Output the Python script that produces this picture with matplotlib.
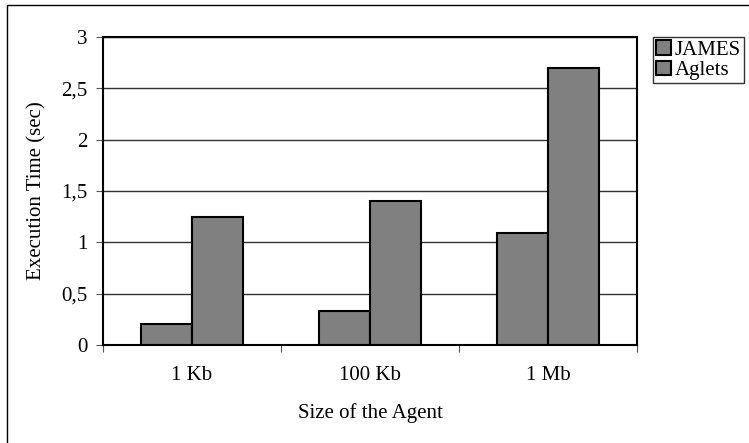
import matplotlib.pyplot as plt
import numpy as np
from matplotlib.patches import Rectangle

sizes = ['1 Kb', '100 Kb', '1 Mb']
james = [0.20, 0.33, 1.09]
aglets = [1.25, 1.40, 2.70]

plt.rcParams['font.family'] = ['Liberation Serif', 'DejaVu Serif']
plt.rcParams['font.size'] = 15

fig = plt.figure(figsize=(7.49, 4.43), dpi=100)
ax = fig.add_axes([103 / 749, 1 - 345 / 443, 534 / 749, 308 / 443])

x = np.arange(len(sizes))
w = 1 / 3.5
ax.bar(x - w / 2, james, w, color='#808080', edgecolor='black', linewidth=1.5, label='JAMES', zorder=3)
ax.bar(x + w / 2, aglets, w, color='#808080', edgecolor='black', linewidth=1.5, label='Aglets', zorder=3)

ax.set_xlim(-0.5, 2.5)
ax.set_ylim(0, 3)
ax.set_yticks([0, 0.5, 1, 1.5, 2, 2.5, 3])
ax.set_yticklabels(['0', '0,5', '1', '1,5', '2', '2,5', '3'])
ax.set_xticks([-0.5, 0.5, 1.5, 2.5])
ax.set_xticklabels([])
ax.set_xticks(x, minor=True)
ax.set_xticklabels(sizes, minor=True)
ax.tick_params(axis='x', which='minor', length=0, pad=15)
ax.tick_params(axis='x', which='major', length=5, direction='out', color='#555555')
ax.tick_params(axis='y', length=5, direction='out', color='#555555', pad=6)
ax.grid(axis='y', color='#333333', linewidth=1, zorder=0)
for s in ax.spines.values():
    s.set_linewidth(1.5)

ax.set_ylabel('Execution Time (sec)', labelpad=11)
ax.set_xlabel('Size of the Agent', labelpad=13)

fig.legend(loc='upper left', bbox_to_anchor=(653 / 749, 1 - 37 / 443), frameon=True,
           fancybox=False, edgecolor='black', handlelength=0.7, handleheight=0.7,
           handletextpad=0.2, borderpad=0.15, labelspacing=0.05, borderaxespad=0)

fig.patches.append(Rectangle((7 / 749, -0.1), 1.2, 1.1 - 5 / 443, transform=fig.transFigure,
                             fill=False, edgecolor='black', linewidth=1))

fig.savefig('out.png', dpi=100)
